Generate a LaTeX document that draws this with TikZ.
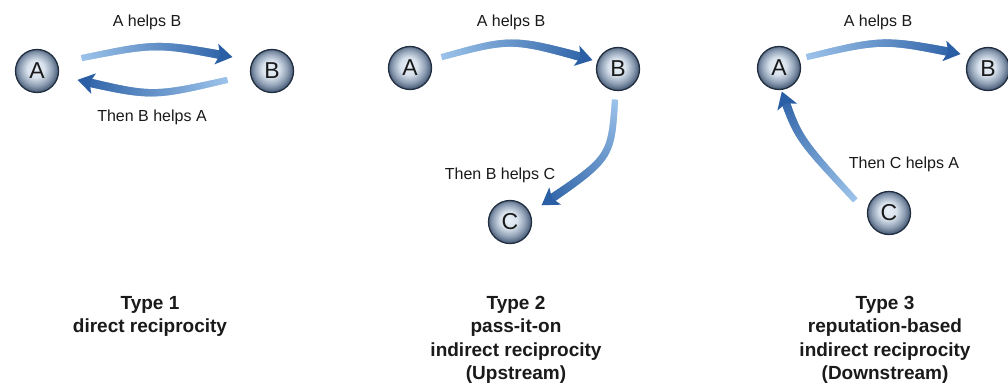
\documentclass[tikz,border=0pt]{standalone}
\usepackage{fontspec}
\setmainfont{Liberation Sans}
\usetikzlibrary{calc,decorations.markings}

\definecolor{arrowlight}{HTML}{9CC3EA}
\definecolor{arrowdark}{HTML}{2A5FA5}
\definecolor{balllight}{HTML}{E8EFF7}
\definecolor{ballmid}{HTML}{A9B9CC}
\definecolor{balledge}{HTML}{50637D}
\definecolor{ballrim}{HTML}{202E40}
\definecolor{inktext}{HTML}{1A1A1A}

% sphere-like fill for the agents
\pgfdeclareradialshading{ballshade}{\pgfpoint{-2bp}{3bp}}{%
  color(0bp)=(balllight); color(10bp)=(balllight!75!ballmid);
  color(19bp)=(ballmid!70!balledge); color(25bp)=(balledge); color(50bp)=(balledge)}

% one slice of an arrow body: colour and width grow towards the head
\newcommand\helpseg{%
  \pgfmathsetmacro\hdist{\pgfkeysvalueof{/pgf/decoration/mark info/distance from start}}%
  \pgfmathsetmacro\hlen{\pgfdecoratedpathlength}%
  \pgfmathtruncatemacro\hkeep{(\hlen-\hdist)>9 ? 1 : 0}%
  \ifnum\hkeep=1
    \pgfmathsetmacro\hpct{100*\hdist/\hlen}%
    \pgfmathsetmacro\hhw{3.0+1.3*\hdist/\hlen}%
    \fill[arrowdark!\hpct!arrowlight] (-0.55pt,-\hhw pt) rectangle (0.55pt,\hhw pt);
  \fi}

\tikzset{
  agent/.style={circle, minimum size=43pt, inner sep=0pt, shade, shading=ballshade,
    draw=ballrim, line width=1.3pt, text=inktext, font=\fontsize{23}{23}\selectfont},
  lbl/.style={inner sep=0pt, text=inktext, font=\fontsize{16}{19}\selectfont},
  title/.style={inner sep=0pt, anchor=north, align=center, text=inktext,
    font=\bfseries\fontsize{19}{23.3}\selectfont},
  helparrow/.style={
    postaction={decoration={markings,
      mark=between positions 0 and 1 step 0.6pt with {\helpseg}}, decorate},
    postaction={decoration={markings,
      mark=at position 1 with {\fill[arrowdark] (0.5pt,0pt) -- (-16pt,10.5pt)
        -- (-12pt,0pt) -- (-16pt,-10.5pt) -- cycle;}}, decorate}}
}

\begin{document}
\begin{tikzpicture}[x=1pt, y=-1pt]
\fill[white] (0,0) rectangle (1008,385);
\useasboundingbox (0,0) rectangle (1008,385);

% ---- direct reciprocity ----
\node[agent] (A1) at (37,71) {A};
\node[agent] (B1) at (272,71) {B};
\coordinate (t1s) at ($(A1)+(45,-13)$);
\coordinate (t1e) at ($(B1)+(-40,-14)$);
\coordinate (b1s) at ($(B1)+(-45,9)$);
\coordinate (b1e) at ($(A1)+(41,9)$);
\path[helparrow] (t1s) .. controls (157,43) .. (t1e);
\path[helparrow] (b1s) .. controls (152,97) .. (b1e);
\node[lbl] (l1ab) at (147,22) {A helps B};
\node[lbl] (l1ba) at (152,117) {Then B helps A};
\node[title] (ty1) at (150,296) {Type 1\\direct reciprocity};

% ---- upstream indirect reciprocity ----
\node[agent] (A2) at (410,68) {A};
\node[agent] (B2) at (618,69) {B};
\node[agent] (C2) at (510,222) {C};
\coordinate (t2s) at ($(A2)+(32,-11)$);
\coordinate (t2e) at ($(B2)+(-26,-9)$);
\coordinate (d2s) at ($(B2)+(-3,31)$);
\coordinate (d2e) at ($(C2)+(32,-17)$);
\path[helparrow] (t2s) .. controls (512,38) .. (t2e);
\path[helparrow] (d2s) .. controls (611,158) .. (d2e);
\node[lbl] (l2ab) at (511,22) {A helps B};
\node[lbl] (l2bc) at (500,175) {Then B helps C};
\node[title] (ty2) at (516,296) {Type 2\\pass-it-on\\indirect reciprocity\\(Upstream)};

% ---- downstream indirect reciprocity ----
\node[agent] (A3) at (779,68) {A};
\node[agent] (B3) at (988,69) {B};
\node[agent] (C3) at (889,213) {C};
\coordinate (t3s) at ($(A3)+(28,-11)$);
\coordinate (t3e) at ($(B3)+(-28,-15)$);
\coordinate (u3s) at ($(C3)+(-34,-13)$);
\coordinate (u3e) at ($(A3)+(3,24)$);
\path[helparrow] (t3s) .. controls (883,39) .. (t3e);
\path[helparrow] (u3s) .. controls (798,138) .. (u3e);
\node[lbl] (l3ab) at (878,22) {A helps B};
\node[lbl] (l3ca) at (904,164) {Then C helps A};
\node[title] (ty3) at (885,296) {Type 3\\reputation-based\\indirect reciprocity\\(Downstream)};
\end{tikzpicture}
\end{document}
